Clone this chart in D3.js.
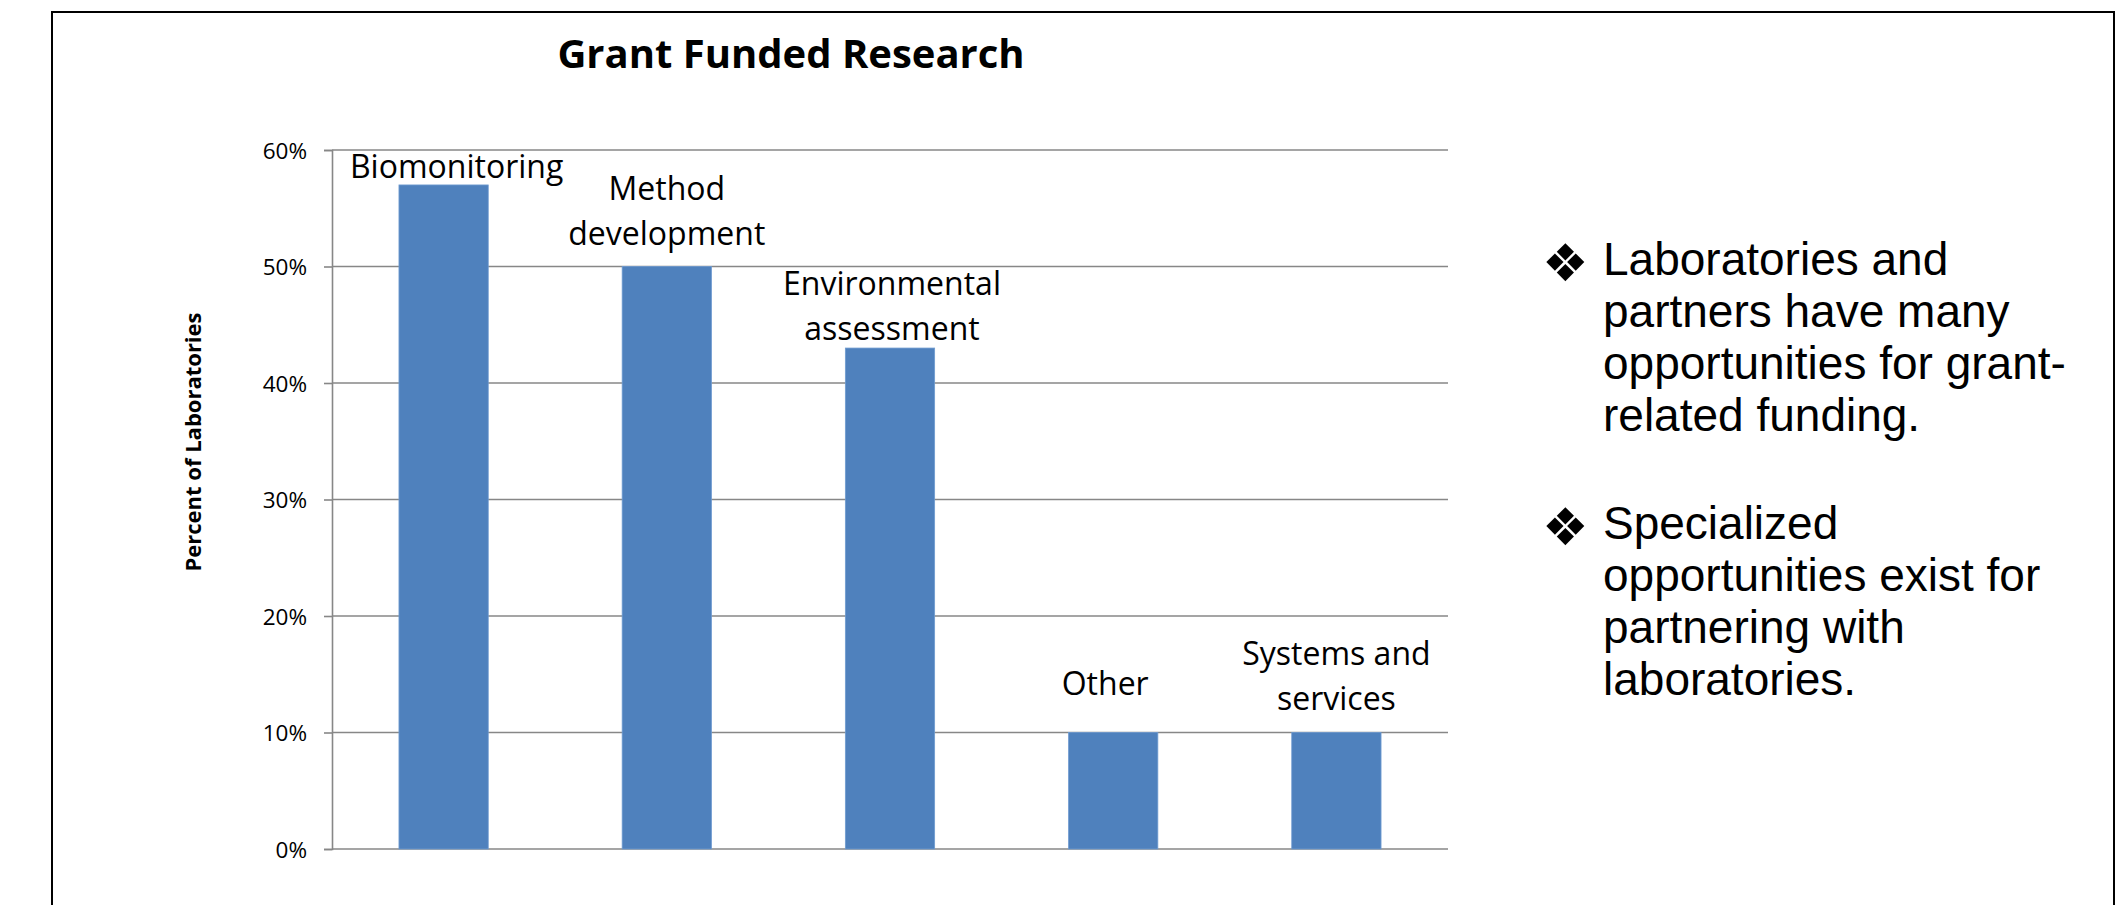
<!DOCTYPE html>
<html>
<head>
<meta charset="utf-8">
<script src="https://cdn.jsdelivr.net/npm/d3@7"></script>
<style>
  html, body { margin: 0; padding: 0; background: #ffffff; }
  svg { display: block; }
</style>
</head>
<body>
<script>
// ---- data ----
const categories = ["Biomonitoring", "Method development", "Environmental assessment", "Other", "Systems and services"];
const values = [0.57, 0.50, 0.43, 0.10, 0.10];
const labelLines = [["Biomonitoring"], ["Method", "development"], ["Environmental", "assessment"], ["Other"], ["Systems and", "services"]];
const yTicks = [0, 0.1, 0.2, 0.3, 0.4, 0.5, 0.6];
const title = "Grant Funded Research";
const yTitle = "Percent of Laboratories";
const bullets = [
  ["Laboratories and", "partners have many", "opportunities for grant-", "related funding."],
  ["Specialized", "opportunities exist for", "partnering with", "laboratories."]
];

// ---- layout ----
const W = 2116, H = 905;
const plot = { left: 332, right: 1448, top: 150, bottom: 849 };
const labelGap = [7, 22, 8, 38, 23];   // px between last label baseline and bar top
const labelShift = [13, 0, 2, -8, 0];  // horizontal nudge of labels
const labelLineH = 45;

const svg = d3.select("body").append("svg").attr("width", W).attr("height", H);
svg.append("rect").attr("width", W).attr("height", H).attr("fill", "#fff");

// frame
svg.append("rect").attr("x", 52).attr("y", 12).attr("width", 2062).attr("height", H + 20)
  .attr("fill", "none").attr("stroke", "#000").attr("stroke-width", 2);

const x = d3.scaleBand().domain(categories).range([plot.left, plot.right])
  .paddingInner(0.6).paddingOuter(0.3);
const y = d3.scaleLinear().domain([0, 0.6]).range([plot.bottom, plot.top]);

// gridlines
svg.append("g").selectAll("line").data(yTicks).join("line")
  .attr("x1", plot.left).attr("x2", plot.right)
  .attr("y1", d => y(d)).attr("y2", d => y(d))
  .attr("stroke", "#878787").attr("stroke-width", 1.6);

// y axis
const yAxis = svg.append("g").attr("transform", `translate(${plot.left},0)`)
  .call(d3.axisLeft(y).tickValues(yTicks).tickFormat(d3.format(".0%")).tickSize(8).tickPadding(17));
yAxis.select(".domain").attr("stroke", "#878787").attr("stroke-width", 1.6);
yAxis.selectAll(".tick line").attr("stroke", "#878787").attr("stroke-width", 1.6);
yAxis.selectAll(".tick text")
  .attr("font-family", "'Open Sans', sans-serif").attr("font-size", 22.5)
  .attr("fill", "#000").attr("dy", "0.36em");

// bars
svg.append("g").selectAll("rect").data(values).join("rect")
  .attr("x", (d, i) => x(categories[i]))
  .attr("y", d => y(d))
  .attr("width", x.bandwidth())
  .attr("height", d => y(0) - y(d))
  .attr("fill", "#4F81BD")
  .attr("stroke", "#6f9bd0").attr("stroke-width", 0.8);

// category labels
const lbl = svg.append("g").selectAll("text").data(labelLines).join("text")
  .attr("font-family", "'Open Sans', sans-serif").attr("font-size", 32)
  .attr("fill", "#000").attr("text-anchor", "middle")
  .attr("transform", (d, i) => {
    const cx = x(categories[i]) + x.bandwidth() / 2 + labelShift[i];
    const base = y(values[i]) - labelGap[i] - (d.length - 1) * labelLineH;
    return `translate(${cx},${base})`;
  });
lbl.selectAll("tspan").data(d => d).join("tspan")
  .attr("x", 0).attr("y", (d, j) => j * labelLineH).text(d => d);

// title
svg.append("text").attr("x", 791).attr("y", 68)
  .attr("text-anchor", "middle")
  .attr("font-family", "'Open Sans', sans-serif").attr("font-weight", "bold").attr("font-size", 40)
  .attr("fill", "#000").text(title);

// y axis title
svg.append("text")
  .attr("transform", "translate(201,442) rotate(-90)")
  .attr("text-anchor", "middle")
  .attr("font-family", "'Open Sans', sans-serif").attr("font-weight", "bold").attr("font-size", 22)
  .attr("fill", "#000").text(yTitle);

// bullet text
const bulletTop = [275, 539];
const bulletLineH = 52;
bullets.forEach((lines, k) => {
  svg.append("text").attr("x", 1542).attr("y", bulletTop[k] + 6)
    .attr("font-family", "'DejaVu Sans', sans-serif").attr("font-size", 52)
    .attr("fill", "#000").text("\u2756");
  const t = svg.append("text")
    .attr("font-family", "'Liberation Sans', Arial, sans-serif").attr("font-size", 46)
    .attr("fill", "#000");
  t.selectAll("tspan").data(lines).join("tspan")
    .attr("x", 1603).attr("y", (d, j) => bulletTop[k] + j * bulletLineH).text(d => d);
});
</script>
</body>
</html>
